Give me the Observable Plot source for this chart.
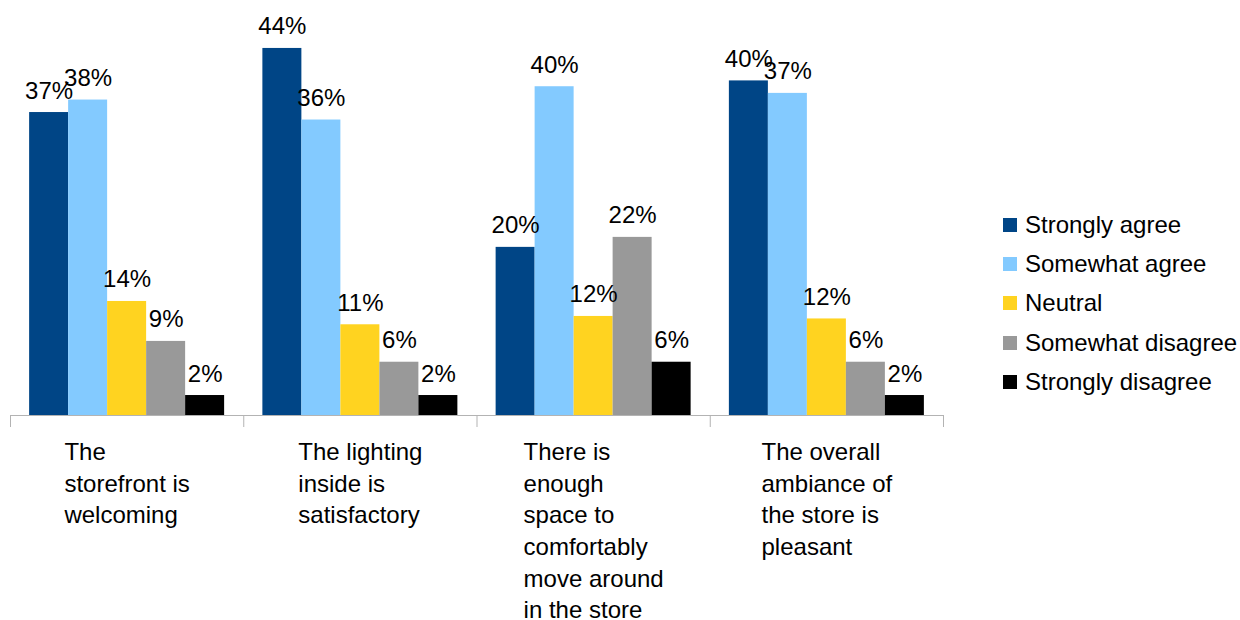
<!DOCTYPE html>
<html><head><meta charset="utf-8">
<script src="https://cdn.jsdelivr.net/npm/d3@7"></script>
<script src="https://cdn.jsdelivr.net/npm/@observablehq/plot@0.6"></script>
<style>
html,body{margin:0;padding:0;background:#fff;}
#wrap{position:relative;width:1240px;height:620px;font-family:"Liberation Sans",Arial,sans-serif;}
#legend{position:absolute;left:1003px;top:205px;}
.row{display:flex;align-items:center;height:39.4px;font-size:24px;color:#000;white-space:nowrap;}
.sw{width:14px;height:14px;margin-right:8px;flex:none;}
</style></head><body><div id="wrap"><div id="chart"></div><div id="legend"></div></div>
<script>
const categories = ["The\nstorefront is\nwelcoming", "The lighting\ninside is\nsatisfactory", "There is\nenough\nspace to\ncomfortably\nmove around\nin the store", "The overall\nambiance of\nthe store is\npleasant"];
const series = ["Strongly agree", "Somewhat agree", "Neutral", "Somewhat disagree", "Strongly disagree"];
const colors = ["#004586", "#83caff", "#ffd320", "#999999", "#000000"];
const stronglyAgree = [36.4, 44.1, 20.2, 40.2];
const somewhatAgree = [37.9, 35.5, 39.5, 38.7];
const neutral = [13.7, 10.9, 11.9, 11.6];
const somewhatDisagree = [8.9, 6.4, 21.4, 6.4];
const stronglyDisagree = [2.4, 2.4, 6.4, 2.4];
const labelsStronglyAgree = ["37%", "44%", "20%", "40%"];
const labelsSomewhatAgree = ["38%", "36%", "40%", "37%"];
const labelsNeutral = ["14%", "11%", "12%", "12%"];
const labelsSomewhatDisagree = ["9%", "6%", "22%", "6%"];
const labelsStronglyDisagree = ["2%", "2%", "6%", "2%"];

const seriesValues = [stronglyAgree, somewhatAgree, neutral, somewhatDisagree, stronglyDisagree];
const seriesLabels = [labelsStronglyAgree, labelsSomewhatAgree, labelsNeutral, labelsSomewhatDisagree, labelsStronglyDisagree];
const groupFill = 0.836;
const barW = groupFill / series.length;
const rows = [];
categories.forEach((c, i) => series.forEach((s, j) => {
  const x1 = i + (1 - groupFill) / 2 + j * barW;
  rows.push({series: s, value: seriesValues[j][i], label: seriesLabels[j][i], x1, x2: x1 + barW});
}));

const FONT = '"Liberation Sans", Arial, sans-serif';
const ctx = document.createElement("canvas").getContext("2d");
ctx.font = '24px "Liberation Sans"';
const catMarks = categories.map((c, i) => {
  const w = d3.max(c.split("\n"), l => ctx.measureText(l).width);
  return Plot.text([c], {x: () => i + 0.5, y: () => 0, text: d => d, textAnchor: "start", lineAnchor: "top",
    dx: -w / 2, dy: 22, lineHeight: 1.32, fontSize: 24, fill: "#000"});
});

const chart = Plot.plot({
  width: 960, height: 620,
  marginLeft: 10, marginRight: 17, marginTop: 3, marginBottom: 205,
  style: {fontFamily: FONT, background: "#fff"},
  x: {domain: [0, categories.length]},
  y: {domain: [0, 49.5], axis: null},
  color: {domain: series, range: colors},
  marks: [
    Plot.rectY(rows, {x1: "x1", x2: "x2", y1: 0, y2: "value", fill: "series"}),
    Plot.ruleY([0], {stroke: "#b3b3b3"}),
    Plot.axisX({ticks: d3.range(categories.length + 1), tickSize: 12, tickFormat: () => "", stroke: "#b3b3b3"}),
    Plot.text(rows, {x: d => (d.x1 + d.x2) / 2, y: "value", text: "label", lineAnchor: "bottom", dy: -14, fontSize: 24, fill: "#000"}),
    ...catMarks
  ]
});
document.getElementById("chart").appendChild(chart);

const legend = document.getElementById("legend");
series.forEach((s, j) => {
  const row = document.createElement("div");
  row.className = "row";
  const sw = document.createElement("span");
  sw.className = "sw";
  sw.style.background = colors[j];
  const t = document.createElement("span");
  t.textContent = s;
  row.appendChild(sw); row.appendChild(t);
  legend.appendChild(row);
});
</script></body></html>
